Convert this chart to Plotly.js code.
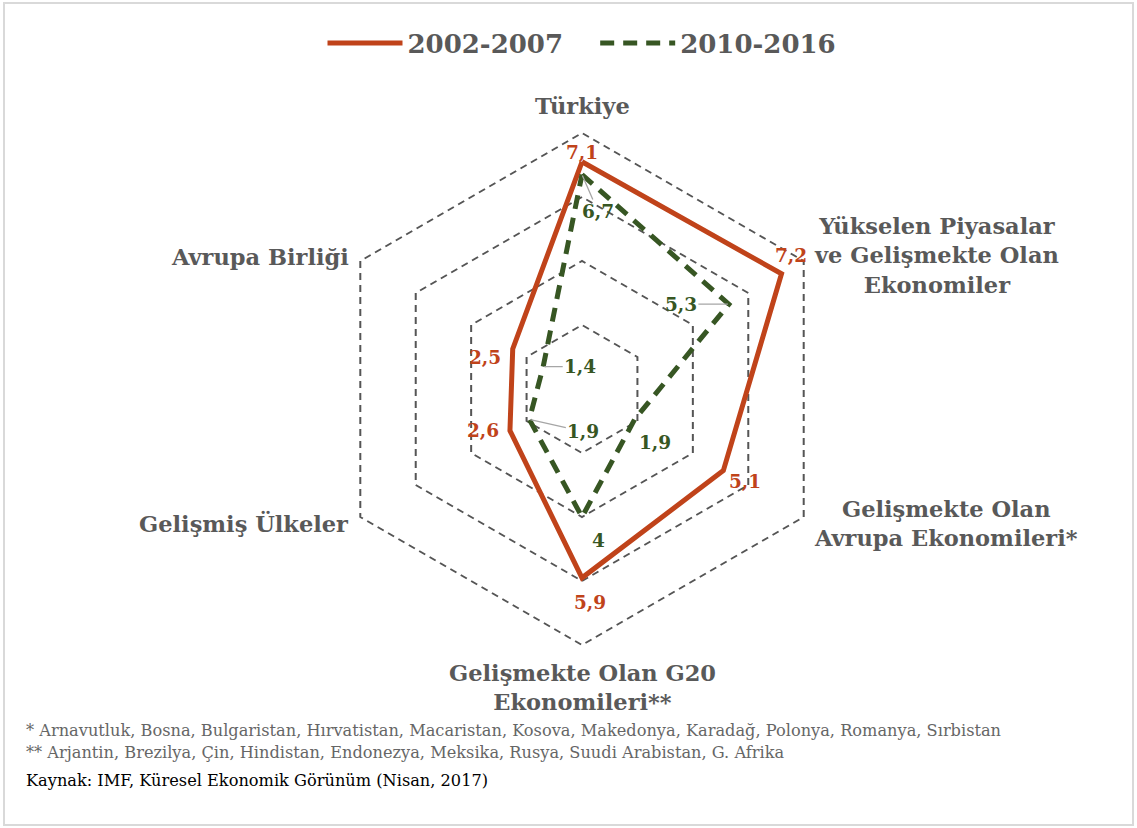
<!DOCTYPE html>
<html>
<head>
<meta charset="utf-8">
<script src="https://cdn.plot.ly/plotly-3.0.1.min.js"></script>
<style>html,body{margin:0;padding:0;background:#fff;}#chart{width:1137px;height:828px;}</style>
</head>
<body>
<div id="chart"></div>
<script>
// ---- data ----
const categories = ['Türkiye', 'Yükselen Piyasalar ve Gelişmekte Olan Ekonomiler', 'Gelişmekte Olan Avrupa Ekonomileri*', 'Gelişmekte Olan G20 Ekonomileri**', 'Gelişmiş Ülkeler', 'Avrupa Birliği'];
const categoryLabels = ['Türkiye', 'Yükselen Piyasalar<br>ve Gelişmekte Olan<br>Ekonomiler', 'Gelişmekte Olan<br>Avrupa Ekonomileri*', 'Gelişmekte Olan G20<br>Ekonomileri**', 'Gelişmiş Ülkeler', 'Avrupa Birliği'];
const seriesNames = ['2002-2007', '2010-2016'];
const values2002 = [7.1, 7.2, 5.1, 5.9, 2.6, 2.5];
const values2010 = [6.7, 5.3, 1.9, 4, 1.9, 1.4];
const radialTicks = [2, 4, 6, 8];
const footnote1 = '* Arnavutluk, Bosna, Bulgaristan, Hırvatistan, Macaristan, Kosova, Makedonya, Karadağ, Polonya, Romanya, Sırbistan';
const footnote2 = '** Arjantin, Brezilya, Çin, Hindistan, Endonezya, Meksika, Rusya, Suudi Arabistan, G. Afrika';
const sourceNote = 'Kaynak: IMF, Küresel Ekonomik Görünüm (Nisan, 2017)';

// ---- style / layout ----
const W = 1137, H = 828;
const GRID_MAX = 8, RMAX = 8.05;
const CX = 582, CY = 389, RPX = 256 * RMAX / GRID_MAX;
const RED = '#C0431A', GREEN = '#375623', GRAY = '#595959';
const SERIF = 'DejaVu Serif';
// label offsets in px [dx, dy] (dy down positive), leader flag
const off2002 = [[0,-9,false],[9,-18,false],[22,11,false],[8,25,false],[-27,0,false],[-28,8,false]];
const off2010 = [[16,37,true],[-48,0,true],[20,23,false],[16,23,false],[54,12,true],[37,0,true]];
// category label placement: [xanchor, yanchor, xshift, yshift]
const catPlace = [['center','bottom',0,12],['left','middle',8,6],['left','middle',8,-6],['center','top',0,-13],['right','middle',-9,-6],['right','middle',-9,4]];

function toPaper(r, i) {
  const th = (90 - 60 * i) * Math.PI / 180;
  const px = CX + r / RMAX * RPX * Math.cos(th);
  const py = CY - r / RMAX * RPX * Math.sin(th);
  return [px / W, 1 - py / H];
}
const fmt = v => String(v).replace('.', ',');
const closeLoop = a => a.concat([a[0]]);

const traces = [
  {type: 'scatterpolar', mode: 'lines', name: seriesNames[0] + '\u00a0\u00a0\u00a0', r: closeLoop(values2002), theta: closeLoop(categories),
   line: {color: RED, width: 5}, hoverinfo: 'skip'},
  {type: 'scatterpolar', mode: 'lines', name: seriesNames[1], r: closeLoop(values2010), theta: closeLoop(categories),
   line: {color: GREEN, width: 5, dash: '14px,9px'}, hoverinfo: 'skip'}
];

const annotations = [];
function addLabels(vals, offs, color) {
  vals.forEach((v, i) => {
    const [x, y] = toPaper(v, i);
    const o = offs[i];
    const base = {x, y, xref: 'paper', yref: 'paper', text: fmt(v),
      font: {family: SERIF, size: 18.5, color, weight: 'bold'}};
    if (o[2]) {
      annotations.push(Object.assign(base, {showarrow: true, arrowhead: 0, arrowwidth: 1.3, arrowcolor: '#A6A6A6',
        ax: o[0], ay: o[1], standoff: 1}));
    } else {
      annotations.push(Object.assign(base, {showarrow: false, xanchor: 'center', yanchor: 'middle', xshift: o[0], yshift: -o[1]}));
    }
  });
}
addLabels(values2002, off2002, RED);
addLabels(values2010, off2010, GREEN);

categoryLabels.forEach((t, i) => {
  const [x, y] = toPaper(GRID_MAX, i);
  const p = catPlace[i];
  annotations.push({x, y, xref: 'paper', yref: 'paper', text: t, showarrow: false, align: 'center',
    xanchor: p[0], yanchor: p[1], xshift: p[2], yshift: p[3],
    font: {family: SERIF, size: 22.5, color: GRAY, weight: 'bold'}});
});

const noteFont = {family: SERIF, size: 16.2, color: '#666666'};
annotations.push({x: 24 / W, y: 1 - 730 / H, xref: 'paper', yref: 'paper', xanchor: 'left', yanchor: 'middle', showarrow: false,
  text: footnote1, font: noteFont});
annotations.push({x: 24 / W, y: 1 - 752 / H, xref: 'paper', yref: 'paper', xanchor: 'left', yanchor: 'middle', showarrow: false,
  text: footnote2, font: noteFont});
annotations.push({x: 24 / W, y: 1 - 780 / H, xref: 'paper', yref: 'paper', xanchor: 'left', yanchor: 'middle', showarrow: false,
  text: sourceNote, font: {family: SERIF, size: 16.2, color: '#000000'}});

const layout = {
  width: W, height: H,
  margin: {l: 0, r: 0, t: 0, b: 0},
  paper_bgcolor: '#ffffff',
  showlegend: true,
  legend: {orientation: 'h', x: 582 / W, xanchor: 'center', y: 1 - 43 / H, yanchor: 'middle',
    font: {family: SERIF, size: 26, color: GRAY, weight: 'bold'}, itemwidth: 75, tracegroupgap: 0},
  polar: {
    domain: {x: [(CX - RPX) / W, (CX + RPX) / W], y: [1 - (CY + RPX) / H, 1 - (CY - RPX) / H]},
    bgcolor: 'rgba(0,0,0,0)',
    gridshape: 'linear',
    radialaxis: {range: [0, RMAX], tickvals: radialTicks, showticklabels: false, ticks: '', showline: false,
      showgrid: true, gridcolor: '#555555', gridwidth: 1.5, griddash: '7px,5px'},
    angularaxis: {categoryorder: 'array', categoryarray: categories, direction: 'clockwise', rotation: 90,
      showticklabels: false, ticks: '', showline: false, showgrid: false}
  },
  shapes: [{type: 'rect', xref: 'paper', yref: 'paper', x0: 4 / W, x1: 1 - 4 / W, y0: 3 / H, y1: 1 - 3 / H,
    line: {color: '#D9D9D9', width: 2}}],
  annotations
};

Plotly.newPlot('chart', traces, layout, {displayModeBar: false});
</script>
</body>
</html>
